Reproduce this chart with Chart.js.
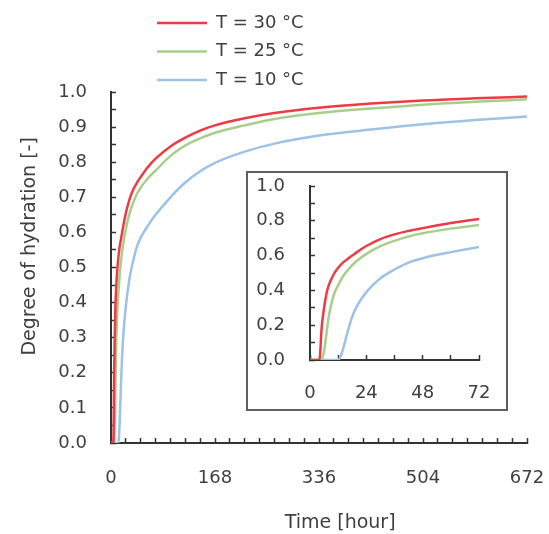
<!DOCTYPE html>
<html>
<head>
<meta charset="utf-8">
<script src="https://cdn.jsdelivr.net/npm/chart.js@4"></script>
<style>
  html, body { margin: 0; padding: 0; background: #ffffff; }
  #wrap { position: relative; width: 549px; height: 534px; overflow: hidden; }
  #main { position: absolute; left: 0; top: 0; }
  #insetBox { position: absolute; left: 246px; top: 171px; width: 258px; height: 236px;
              border: 2px solid #5e5e5e; background: #ffffff; }
  #inset { display: block; }
</style>
</head>
<body>
<div id="wrap">
  <canvas id="main" width="549" height="534"></canvas>
  <div id="insetBox"><canvas id="inset" width="258" height="236"></canvas></div>
</div>
<script>
// ---- data ----
const hours   = [0, 4, 5, 6, 7, 8, 10, 12, 13, 14, 16, 18, 20, 24, 30, 36, 42, 48, 60, 72, 96, 120, 144, 168, 216, 264, 336, 420, 504, 588, 672];
const alpha30 = [0, 0, 0.19, 0.30, 0.38, 0.43, 0.49, 0.53, 0.545, 0.56, 0.58, 0.60, 0.62, 0.655, 0.695, 0.722, 0.742, 0.758, 0.787, 0.81, 0.845, 0.87, 0.89, 0.905, 0.925, 0.94, 0.955, 0.967, 0.976, 0.982, 0.987];
const alpha25 = [0, 0, 0, 0.05, 0.15, 0.25, 0.37, 0.43, 0.455, 0.48, 0.515, 0.545, 0.57, 0.61, 0.655, 0.685, 0.71, 0.728, 0.755, 0.776, 0.818, 0.848, 0.868, 0.884, 0.905, 0.923, 0.94, 0.953, 0.964, 0.972, 0.979];
const alpha10 = [0, 0, 0, 0, 0, 0, 0, 0, 0.02, 0.06, 0.16, 0.25, 0.31, 0.39, 0.47, 0.52, 0.56, 0.585, 0.62, 0.65, 0.70, 0.742, 0.774, 0.798, 0.83, 0.853, 0.876, 0.893, 0.908, 0.92, 0.93];

const seriesLabels = ['T = 30 °C', 'T = 25 °C', 'T = 10 °C'];
const seriesColors = ['#ee3a45', '#a8cf8a', '#9cc2e6'];

const mainXLabels  = [0, 168, 336, 504, 672];
const mainYLabels  = [0, 0.1, 0.2, 0.3, 0.4, 0.5, 0.6, 0.7, 0.8, 0.9, 1.0];
const insetXLabels = [0, 24, 48, 72];
const insetYLabels = [0, 0.2, 0.4, 0.6, 0.8, 1.0];

const xTitle = 'Time [hour]';
const yTitle = 'Degree of hydration [-]';

// ---- helpers ----
const allSeries = [alpha30, alpha25, alpha10];
function buildDatasets() {
  return allSeries.map((vals, i) => ({
    label: seriesLabels[i],
    data: hours.map((h, j) => ({ x: h, y: vals[j] })),
    borderColor: seriesColors[i],
    backgroundColor: seriesColors[i],
    borderWidth: 2.5,
    pointRadius: 0,
    fill: false,
    cubicInterpolationMode: 'monotone'
  }));
}
const near = (v, list) => list.some(l => Math.abs(l - v) < 1e-6);

Chart.defaults.font.family = "'DejaVu Sans', sans-serif";
Chart.defaults.color = '#404040';

const AXIS = '#333333';
const LABEL = '#404040';
const NB = n => '\u00A0'.repeat(n);

function axisCommon() {
  return {
    border: { display: true, color: AXIS, width: 2 },
    grid: { drawOnChartArea: false, drawTicks: true, tickLength: -5, color: AXIS, tickColor: AXIS, tickWidth: 1.5 }
  };
}
function fixX(h) {
  return s => { s.height = h; s.paddingLeft = 0; s.paddingRight = 0; };
}
function fixY(w) {
  return s => { s.width = w; s.paddingTop = 0; s.paddingBottom = 0; };
}

// ---- main chart ----
new Chart(document.getElementById('main'), {
  type: 'line',
  data: { datasets: buildDatasets() },
  options: {
    responsive: false,
    animation: false,
    devicePixelRatio: 1,
    layout: { padding: { top: 3.5, right: 22, left: 0, bottom: 0 } },
    plugins: {
      tooltip: { enabled: false },
      legend: {
        position: 'top',
        align: 'center',
        fullSize: false,
        maxHeight: 88.5,
        labels: {
          usePointStyle: true,
          pointStyle: 'line',
          pointStyleWidth: 50,
          padding: 10.5,
          color: LABEL,
          font: { size: 18 },
          generateLabels(chart) {
            const items = Chart.defaults.plugins.legend.labels.generateLabels(chart);
            items.forEach(it => { it.text = it.text + NB(31); it.lineWidth = 2.5; });
            return items;
          }
        }
      }
    },
    scales: {
      x: Object.assign(axisCommon(), {
        type: 'linear', min: 0, max: 672,
        afterFit: fixX(91),
        ticks: { stepSize: 24, autoSkip: false, maxRotation: 0, minRotation: 0, padding: 30,
                 color: LABEL, font: { size: 18 },
                 callback: v => near(v, mainXLabels) ? String(Math.round(v)) : '' },
        title: { display: true, text: NB(7) + xTitle, color: LABEL, font: { size: 19 },
                 padding: { top: 0, bottom: 0 } }
      }),
      y: Object.assign(axisCommon(), {
        type: 'linear', min: 0, max: 1,
        afterFit: fixY(111),
        ticks: { stepSize: 0.05, autoSkip: false, padding: 29, color: LABEL, font: { size: 18 },
                 callback: v => near(v, mainYLabels) ? v.toFixed(1) : '' },
        title: { display: true, text: NB(7) + yTitle, color: LABEL, font: { size: 19 },
                 padding: { top: 19, bottom: 0 } }
      })
    }
  }
});

// ---- inset chart ----
new Chart(document.getElementById('inset'), {
  type: 'line',
  data: { datasets: buildDatasets() },
  options: {
    responsive: false,
    animation: false,
    devicePixelRatio: 1,
    layout: { padding: { top: 13, right: 27, left: 0, bottom: 0 } },
    plugins: { tooltip: { enabled: false }, legend: { display: false } },
    scales: {
      x: Object.assign(axisCommon(), {
        type: 'linear', min: 0, max: 72,
        afterFit: fixX(49),
        ticks: { stepSize: 12, autoSkip: false, maxRotation: 0, minRotation: 0, padding: 27.2,
                 color: LABEL, font: { size: 18 },
                 callback: v => near(v, insetXLabels) ? String(Math.round(v)) : '' }
      }),
      y: Object.assign(axisCommon(), {
        type: 'linear', min: 0, max: 1,
        afterFit: fixY(62),
        ticks: { stepSize: 0.1, autoSkip: false, padding: 30, color: LABEL, font: { size: 18 },
                 callback: v => near(v, insetYLabels) ? v.toFixed(1) : '' }
      })
    }
  }
});
</script>
</body>
</html>
